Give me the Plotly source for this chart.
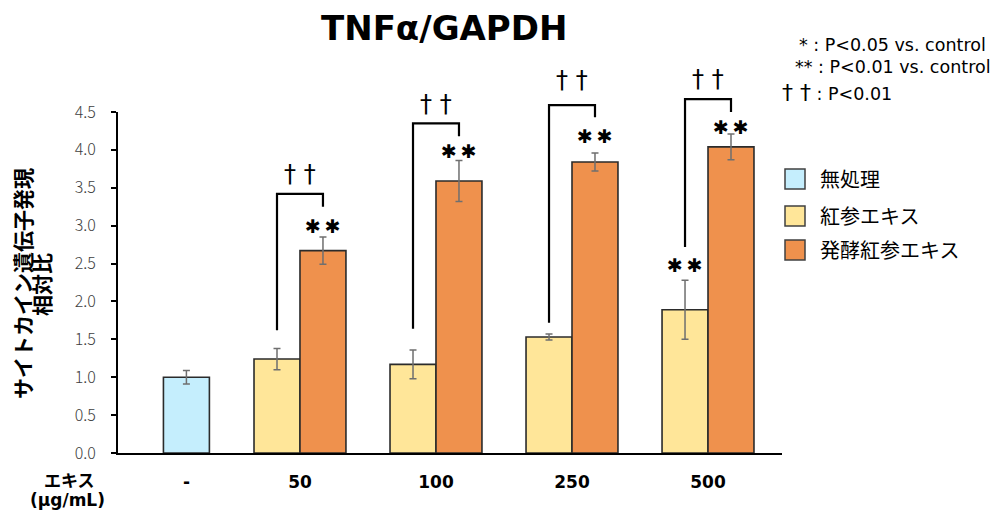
import plotly.graph_objects as go

# ---------------- data ----------------
categories = ["-", "50", "100", "250", "500"]
series_names = ["無処理", "紅参エキス", "発酵紅参エキス"]
control_value = [1.00]
control_err = [0.09]
red_ginseng = [1.24, 1.17, 1.53, 1.89]
red_ginseng_err = [0.14, 0.19, 0.04, 0.39]
fermented = [2.67, 3.59, 3.84, 4.04]
fermented_err = [0.18, 0.27, 0.12, 0.17]
y_ticks = [0.0, 0.5, 1.0, 1.5, 2.0, 2.5, 3.0, 3.5, 4.0, 4.5]

# ---------------- styles / layout config ----------------
colors = ["#C5EEFD", "#FFE699", "#EF914D"]
edge = "#2b2b2b"
err_color = "#6f6f6f"
bar_w = 0.338
ctrl_shift = 0.165          # control category sits right of the regular grid
positions = [ctrl_shift] + [i for i in range(1, len(categories))]

W, H = 999, 510
L, R, T, B = 118, 217, 112, 57
PW, PH = W - L - R, H - T - B
xr = [-0.338, 4.544]
ymax = 4.5


def px_x(px):
    return (px - L) / PW


def px_y(py):
    return 1 - (py - T) / PH


jp = "Noto Sans CJK JP"
lat = "DejaVu Sans"
star_txt = "✱\u2009✱"
star_font = dict(family=lat, size=19, color="black")
dag_txt = "†&nbsp;†"
dag_font = dict(family=lat, size=24, color="black")

fig = go.Figure()

fig.add_trace(go.Bar(
    x=positions[:1], y=control_value, width=bar_w, offset=-bar_w / 2,
    name=series_names[0], marker=dict(color=colors[0], line=dict(color=edge, width=1.6)),
    error_y=dict(type="data", array=control_err, color=err_color, thickness=1.5, width=3.5),
    showlegend=False,
))
fig.add_trace(go.Bar(
    x=positions[1:], y=red_ginseng, width=bar_w, offset=-bar_w,
    name=series_names[1], marker=dict(color=colors[1], line=dict(color=edge, width=1.6)),
    error_y=dict(type="data", array=red_ginseng_err, color=err_color, thickness=1.5, width=3.5),
    showlegend=False,
))
fig.add_trace(go.Bar(
    x=positions[1:], y=fermented, width=bar_w, offset=0,
    name=series_names[2], marker=dict(color=colors[2], line=dict(color=edge, width=1.6)),
    error_y=dict(type="data", array=fermented_err, color=err_color, thickness=1.5, width=3.5),
    showlegend=False,
))

shapes = []
annotations = []

# brackets (left-bottom, top, right-bottom) in data units, for groups 50..500
brackets = [(1.62, 3.42, 3.25), (1.64, 4.35, 4.18), (1.72, 4.59, 4.43), (2.72, 4.67, 4.50)]
star_orange_y = [3.00, 3.98, 4.18, 4.30]
dagger_y = [3.68, 4.60, 4.92, 4.93]
for gi, (lb, top, rb) in enumerate(brackets):
    c = positions[gi + 1]
    xl = c - bar_w / 2
    xrt = c + bar_w / 2
    path = (f"M {xl},{lb / ymax} L {xl},{top / ymax} L {xrt},{top / ymax} L {xrt},{rb / ymax}")
    shapes.append(dict(type="path", xref="x", yref="paper", path=path,
                       line=dict(color="black", width=2.2)))
    annotations.append(dict(x=xrt, y=star_orange_y[gi] / ymax, xref="x", yref="paper", text=star_txt,
                            showarrow=False, font=star_font, xanchor="center", yanchor="middle"))
    annotations.append(dict(x=c, y=dagger_y[gi] / ymax, xref="x", yref="paper", text=dag_txt,
                            showarrow=False, font=dag_font, xanchor="center", yanchor="middle"))
# stars above 500 yellow bar
annotations.append(dict(x=positions[4] - bar_w / 2, y=2.48 / ymax, xref="x", yref="paper", text=star_txt,
                        showarrow=False, font=star_font, xanchor="center", yanchor="middle"))

# significance notes top right
notes = [("* : P<0.05 vs. control", 797, 45), ("** : P<0.01 vs. control", 793, 67),
         ("<span style='font-size:22px'>†&nbsp;†</span> : P<0.01", 780, 92)]
for txt, xp, yp in notes:
    annotations.append(dict(x=px_x(xp), y=px_y(yp), xref="paper", yref="paper", text=txt,
                            showarrow=False, font=dict(family=lat, size=17.5, color="black"),
                            xanchor="left", yanchor="middle"))

# manual legend
leg_y = [179, 216, 250]
for name, col, yp in zip(series_names, colors, leg_y):
    shapes.append(dict(type="rect", xref="paper", yref="paper",
                       x0=px_x(785), x1=px_x(805), y0=px_y(yp + 10), y1=px_y(yp - 10),
                       fillcolor=col, line=dict(color="#404040", width=1.5)))
    annotations.append(dict(x=px_x(818), y=px_y(yp - 1), xref="paper", yref="paper", text=name,
                            showarrow=False, font=dict(family=jp, size=20, color="black"),
                            xanchor="left", yanchor="middle"))

# y-axis title (two rotated lines, tight spacing)
annotations.append(dict(x=px_x(22), y=px_y(284), xref="paper", yref="paper",
                        text="サイトカイン遺伝子発現", textangle=-90, showarrow=False,
                        font=dict(family=jp, size=21, color="black", weight="bold"),
                        xanchor="center", yanchor="middle"))
annotations.append(dict(x=px_x(41), y=px_y(285), xref="paper", yref="paper",
                        text="相対比", textangle=-90, showarrow=False,
                        font=dict(family=jp, size=21, color="black", weight="bold"),
                        xanchor="center", yanchor="middle"))

# x-axis caption
annotations.append(dict(x=px_x(69), y=px_y(479), xref="paper", yref="paper", text="エキス",
                        showarrow=False, font=dict(family=jp, size=17, color="black", weight="bold"),
                        xanchor="center", yanchor="middle"))
annotations.append(dict(x=px_x(67), y=px_y(500), xref="paper", yref="paper", text="(μg/mL)",
                        showarrow=False, font=dict(family=lat, size=17, color="black", weight="bold"),
                        xanchor="center", yanchor="middle"))

# title
annotations.append(dict(x=px_x(444), y=px_y(28), xref="paper", yref="paper", text="<b>TNFα/GAPDH</b>",
                        showarrow=False, font=dict(family=lat, size=34, color="black"),
                        xanchor="center", yanchor="middle"))

fig.update_layout(
    width=W, height=H,
    margin=dict(l=L, r=R, t=T, b=B, autoexpand=False),
    paper_bgcolor="white", plot_bgcolor="white",
    barmode="overlay",
    shapes=shapes, annotations=annotations,
    xaxis=dict(range=xr, tickmode="array", tickvals=positions, ticktext=categories,
               showline=True, linecolor="black", linewidth=2, ticks="", showgrid=False,
               zeroline=False, ticklabelstandoff=13,
               tickfont=dict(family=lat, size=17, color="black", weight="bold")),
    yaxis=dict(range=[0, ymax], tickmode="array", tickvals=y_ticks, tickformat=".1f",
               showline=True, linecolor="black", linewidth=2, ticks="outside", ticklen=5,
               tickcolor="black", tickwidth=1.5, showgrid=False, zeroline=False,
               ticklabelstandoff=12,
               tickfont=dict(family=jp, size=16, color="#404040", weight=300)),
)

fig.write_html("out.html", config={"displayModeBar": False},
               post_script="document.body.style.margin='0';document.body.style.padding='0';")
